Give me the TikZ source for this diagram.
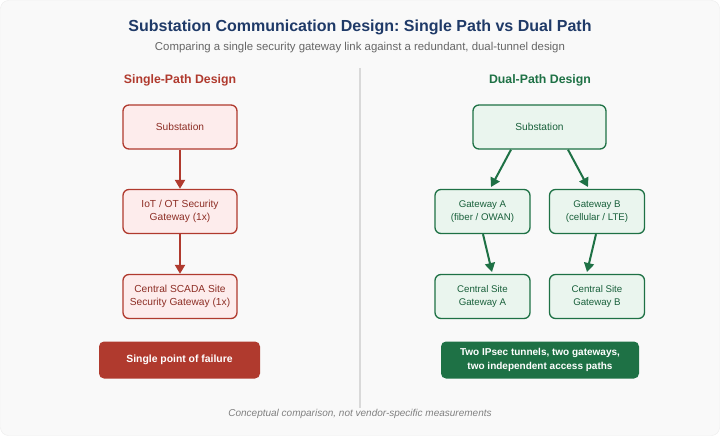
\documentclass[tikz,border=0pt]{standalone}
\usepackage{fontspec}
\setmainfont{Liberation Sans}
\usetikzlibrary{arrows.meta}
\frenchspacing
\definecolor{navy}{HTML}{1F3A68}
\definecolor{redc}{HTML}{B03A2E}
\definecolor{redfill}{HTML}{FDECEC}
\definecolor{greenc}{HTML}{1E7145}
\definecolor{greenfill}{HTML}{EAF5EE}
\definecolor{subgray}{HTML}{666666}
\definecolor{bgc}{HTML}{F9F9F9}
\tikzset{
  redbox/.style={draw=redc, fill=redfill, line width=1.3pt, rounded corners=6pt, text=redc!80!black, align=center, font=\fontsize{10.2}{13}\selectfont, inner sep=0pt},
  greenbox/.style={draw=greenc, fill=greenfill, line width=1.3pt, rounded corners=6pt, text=greenc!85!black, align=center, font=\fontsize{9.7}{13}\selectfont, inner sep=0pt},
  redarr/.style={draw=redc, line width=2pt, -{Triangle[length=9pt,width=10pt]}},
  greenarr/.style={draw=greenc, line width=2pt, -{Triangle[length=9pt,width=10pt]}},
  bar/.style={rounded corners=5pt, text=white, align=center, font=\bfseries\fontsize{10.4}{14}\selectfont, inner sep=0pt},
}
\begin{document}
\begin{tikzpicture}[x=1pt,y=-1pt]
\useasboundingbox (0,0) rectangle (720,436);
\draw[fill=bgc, draw=gray!15, rounded corners=8pt] (0.5,0.5) rectangle (719.5,435.5);
\node[font=\bfseries\fontsize{16}{19}\selectfont, text=navy] (title) at (360,27) {Substation Communication Design: Single Path vs Dual Path};
\node[font=\fontsize{11.4}{14}\selectfont, text=subgray] (subtitle) at (360,48) {Comparing a single security gateway link against a redundant, dual-tunnel design};
\coordinate (dtop) at (360,68);
\coordinate (dbot) at (360,408);
\draw[gray!30, line width=1.5pt] (dtop) -- (dbot);
% left
\node[font=\bfseries\fontsize{12.3}{15}\selectfont, text=redc] (lh) at (180,80) {Single-Path Design};
\node[redbox, minimum width=114pt, minimum height=44pt] (l1) at (180,127) {Substation};
\node[redbox, minimum width=114pt, minimum height=44pt] (l2) at (180,211.5) {IoT / OT Security\\Gateway (1x)};
\node[redbox, minimum width=114pt, minimum height=44pt] (l3) at (180,296.5) {Central SCADA Site\\Security Gateway (1x)};
\draw[redarr] (l1) -- (l2);
\draw[redarr] (l2) -- (l3);
\node[bar, fill=redc, minimum width=161pt, minimum height=37pt] (lbar) at (179.5,360) {Single point of failure};
% right
\node[font=\bfseries\fontsize{12.3}{15}\selectfont, text=greenc] (rh) at (540,80) {Dual-Path Design};
\node[greenbox, minimum width=133pt, minimum height=44pt, font=\fontsize{10.2}{13}\selectfont] (r1) at (539.5,127) {Substation};
\node[greenbox, minimum width=95pt, minimum height=44pt] (ga) at (482.5,211.5) {Gateway A\\(fiber / OWAN)};
\node[greenbox, minimum width=95pt, minimum height=44pt] (gb) at (597,211.5) {Gateway B\\(cellular / LTE)};
\node[greenbox, minimum width=95pt, minimum height=44pt] (ca) at (482.5,296.5) {Central Site\\Gateway A};
\node[greenbox, minimum width=95pt, minimum height=44pt] (cb) at (597,296.5) {Central Site\\Gateway B};
\draw[greenarr] (r1.south -| 511,0) -- (491,187);
\draw[greenarr] (r1.south -| 568,0) -- (588,187);
\draw[greenarr] (ga.south -| 483,0) -- (492,272);
\draw[greenarr] (gb.south -| 596,0) -- (587,272);
\node[bar, fill=greenc, minimum width=198pt, minimum height=37pt, font=\bfseries\fontsize{10}{14}\selectfont] (rbar) at (540,360) {Two IPsec tunnels, two gateways,\\two independent access paths};
\node[font=\itshape\fontsize{10}{12}\selectfont, text=gray] (foot) at (360,414) {Conceptual comparison, not vendor-specific measurements};
\end{tikzpicture}
\end{document}
